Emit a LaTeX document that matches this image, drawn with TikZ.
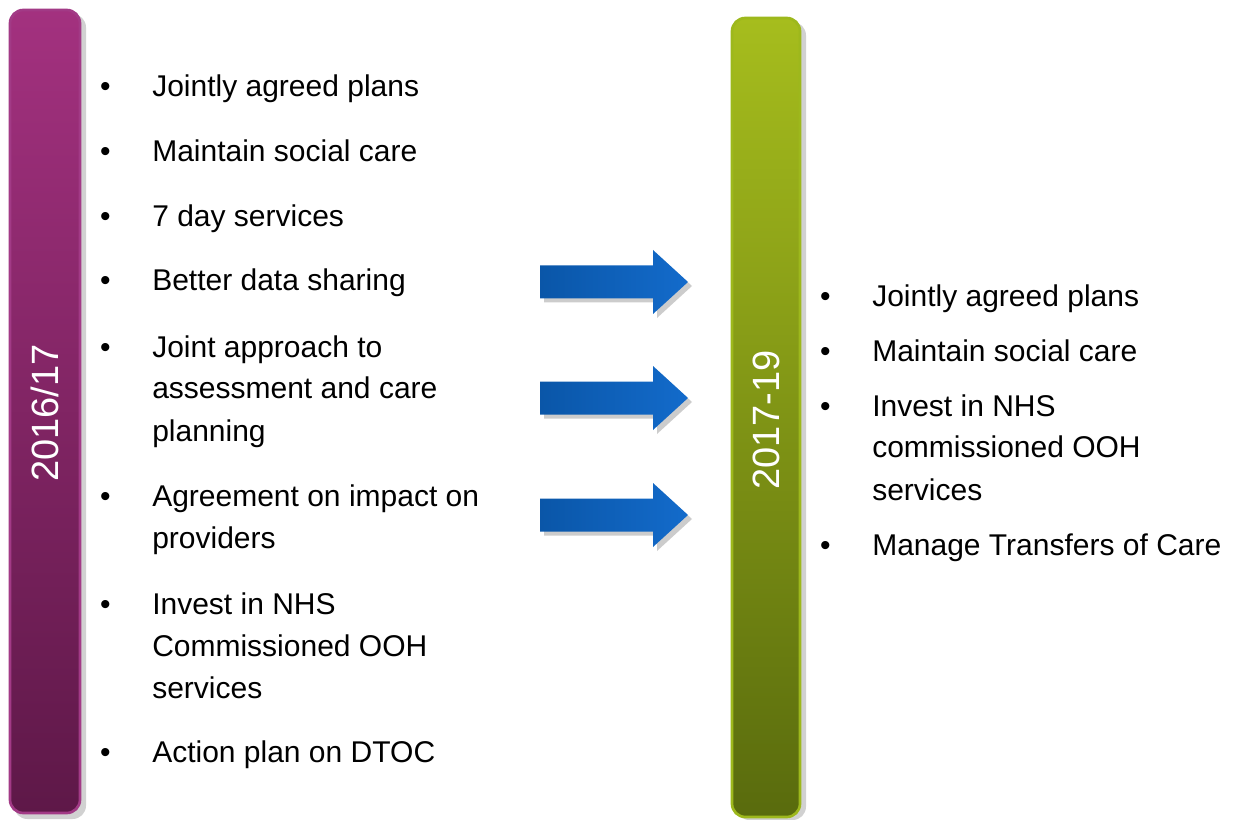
\documentclass[tikz,border=0pt]{standalone}
\usepackage{fontspec}
\setmainfont{Liberation Sans}
\usetikzlibrary{calc}
\definecolor{plumtop}{HTML}{A3317F}
\definecolor{plumbot}{HTML}{5E1848}
\definecolor{plumrim}{HTML}{A23A86}
\definecolor{limetop}{HTML}{A6BD1D}
\definecolor{limebot}{HTML}{596B0D}
\definecolor{limerim}{HTML}{9DB81C}
\definecolor{arrowdark}{HTML}{0A56A8}
\definecolor{arrowlight}{HTML}{136BCB}
\newcommand{\itemlines}[1]{\begin{tabular}[t]{@{}l@{}}#1\end{tabular}}

\begin{document}
\begin{tikzpicture}[x=0.75pt,y=-0.75pt,
    itm/.style={anchor=base west,inner sep=0pt,
        font=\fontsize{22.5}{31.5}\selectfont},
    bul/.style={anchor=base,inner sep=0pt,font=\fontsize{22.5}{31.5}\selectfont},
    yearlbl/.style={rotate=90,text=white,inner sep=0pt,
        font=\fontsize{28.5}{30}\selectfont},
    shadow/.style={fill=black,opacity=.18,rounded corners=10}]
    \useasboundingbox (0,0) rectangle (1247,820);

    % year bars
    \fill[shadow] (14,14) rectangle (86,819);
    \shade[rounded corners=10,top color=plumtop,bottom color=plumbot,
        draw=plumrim,line width=2] (10,10) rectangle (80,813);
    \node[yearlbl] (y1) at (45,413) {2016/17};

    \fill[shadow] (736,22) rectangle (806,820);
    \shade[rounded corners=10,top color=limetop,bottom color=limebot,
        draw=limerim,line width=2] (732,18) rectangle (800,817);
    \node[yearlbl] (y2) at (766,420) {2017-19};

    % arrows
    \foreach \ay in {282,398,515} {
        \fill[black,opacity=.2] (544,\ay-12.5) -- (657,\ay-12.5) -- (657,\ay-28)
            -- (692,\ay+4) -- (657,\ay+36) -- (657,\ay+20.5) -- (544,\ay+20.5) -- cycle;
        \shade[left color=arrowdark,right color=arrowlight] (540,\ay-16.5)
            -- (653,\ay-16.5) -- (653,\ay-32) -- (688,\ay) -- (653,\ay+32)
            -- (653,\ay+16.5) -- (540,\ay+16.5) -- cycle;
    }

    % 2016/17 items
    \node[itm] (l1) at (152,97) {Jointly agreed plans};
    \node[itm] (l2) at (152,162) {Maintain social care};
    \node[itm] (l3) at (152,227) {7 day services};
    \node[itm] (l4) at (152,291) {Better data sharing};
    \node[itm] (l5) at (152,357) {\itemlines{Joint approach to\\assessment and care\\planning}};
    \node[itm] (l6) at (152,506) {\itemlines{Agreement on impact on\\providers}};
    \node[itm] (l7) at (152,614) {\itemlines{Invest in NHS\\Commissioned OOH\\services}};
    \node[itm] (l8) at (152,762) {Action plan on DTOC};

    % 2017-19 items
    \node[itm] (r1) at (872,306) {Jointly agreed plans};
    \node[itm] (r2) at (872,361) {Maintain social care};
    \node[itm] (r3) at (872,416) {\itemlines{Invest in NHS\\commissioned OOH\\services}};
    \node[itm] (r4) at (872,555) {Manage Transfers of Care};

    \foreach \n in {l1,l2,l3,l4,l5,l6,l7,l8,r1,r2,r3,r4}
        \node[bul,xshift=-35pt] (b\n) at (\n.base west) {•};
\end{tikzpicture}
\end{document}
